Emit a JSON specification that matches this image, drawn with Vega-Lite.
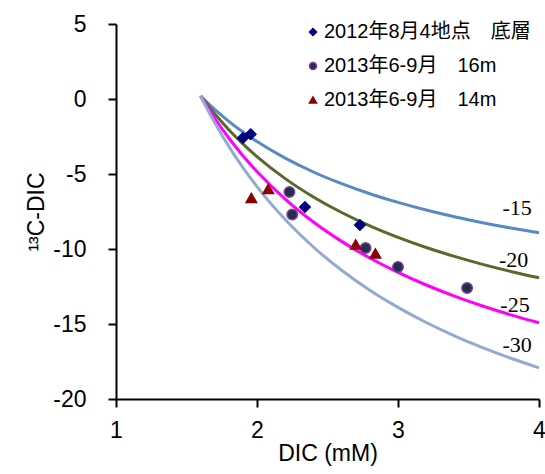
{
  "$schema": "https://vega.github.io/schema/vega-lite/v6.json",
  "width": 423,
  "height": 375,
  "autosize": "none",
  "padding": {"left": 116, "top": 24, "right": 6, "bottom": 75},
  "background": "white",
  "config": {
    "view": {"stroke": null},
    "font": "Liberation Sans",
    "axis": {"grid": false, "domainColor": "black", "domainWidth": 2, "tickColor": "black", "tickWidth": 2, "tickSize": 8, "labelFont": "Liberation Sans", "labelFontSize": 23, "labelColor": "black", "labelFlush": false, "titleFont": "Liberation Sans", "titleFontSize": 23, "titleFontWeight": "normal", "titleColor": "black"}
  },
  "datasets": {
    "curves": [
      {"dic": 1.6, "d13c": 0.2, "end": "-15"}, {"dic": 1.65, "d13c": -0.261, "end": "-15"}, {"dic": 1.7, "d13c": -0.694, "end": "-15"}, {"dic": 1.8, "d13c": -1.489, "end": "-15"}, {"dic": 1.9, "d13c": -2.2, "end": "-15"}, {"dic": 2.0, "d13c": -2.84, "end": "-15"}, {"dic": 2.2, "d13c": -3.945, "end": "-15"}, {"dic": 2.4, "d13c": -4.867, "end": "-15"}, {"dic": 2.6, "d13c": -5.646, "end": "-15"}, {"dic": 2.8, "d13c": -6.314, "end": "-15"}, {"dic": 3.0, "d13c": -6.893, "end": "-15"}, {"dic": 3.2, "d13c": -7.4, "end": "-15"}, {"dic": 3.4, "d13c": -7.847, "end": "-15"}, {"dic": 3.6, "d13c": -8.244, "end": "-15"}, {"dic": 3.8, "d13c": -8.6, "end": "-15"}, {"dic": 4.0, "d13c": -8.92, "end": "-15"},
      {"dic": 1.6, "d13c": 0.2, "end": "-20"}, {"dic": 1.65, "d13c": -0.412, "end": "-20"}, {"dic": 1.7, "d13c": -0.988, "end": "-20"}, {"dic": 1.8, "d13c": -2.044, "end": "-20"}, {"dic": 1.9, "d13c": -2.989, "end": "-20"}, {"dic": 2.0, "d13c": -3.84, "end": "-20"}, {"dic": 2.2, "d13c": -5.309, "end": "-20"}, {"dic": 2.4, "d13c": -6.533, "end": "-20"}, {"dic": 2.6, "d13c": -7.569, "end": "-20"}, {"dic": 2.8, "d13c": -8.457, "end": "-20"}, {"dic": 3.0, "d13c": -9.227, "end": "-20"}, {"dic": 3.2, "d13c": -9.9, "end": "-20"}, {"dic": 3.4, "d13c": -10.494, "end": "-20"}, {"dic": 3.6, "d13c": -11.022, "end": "-20"}, {"dic": 3.8, "d13c": -11.495, "end": "-20"}, {"dic": 4.0, "d13c": -11.92, "end": "-20"},
      {"dic": 1.6, "d13c": 0.2, "end": "-25"}, {"dic": 1.65, "d13c": -0.564, "end": "-25"}, {"dic": 1.7, "d13c": -1.282, "end": "-25"}, {"dic": 1.8, "d13c": -2.6, "end": "-25"}, {"dic": 1.9, "d13c": -3.779, "end": "-25"}, {"dic": 2.0, "d13c": -4.84, "end": "-25"}, {"dic": 2.2, "d13c": -6.673, "end": "-25"}, {"dic": 2.4, "d13c": -8.2, "end": "-25"}, {"dic": 2.6, "d13c": -9.492, "end": "-25"}, {"dic": 2.8, "d13c": -10.6, "end": "-25"}, {"dic": 3.0, "d13c": -11.56, "end": "-25"}, {"dic": 3.2, "d13c": -12.4, "end": "-25"}, {"dic": 3.4, "d13c": -13.141, "end": "-25"}, {"dic": 3.6, "d13c": -13.8, "end": "-25"}, {"dic": 3.8, "d13c": -14.389, "end": "-25"}, {"dic": 4.0, "d13c": -14.92, "end": "-25"},
      {"dic": 1.6, "d13c": 0.2, "end": "-30"}, {"dic": 1.65, "d13c": -0.715, "end": "-30"}, {"dic": 1.7, "d13c": -1.576, "end": "-30"}, {"dic": 1.8, "d13c": -3.156, "end": "-30"}, {"dic": 1.9, "d13c": -4.568, "end": "-30"}, {"dic": 2.0, "d13c": -5.84, "end": "-30"}, {"dic": 2.2, "d13c": -8.036, "end": "-30"}, {"dic": 2.4, "d13c": -9.867, "end": "-30"}, {"dic": 2.6, "d13c": -11.415, "end": "-30"}, {"dic": 2.8, "d13c": -12.743, "end": "-30"}, {"dic": 3.0, "d13c": -13.893, "end": "-30"}, {"dic": 3.2, "d13c": -14.9, "end": "-30"}, {"dic": 3.4, "d13c": -15.788, "end": "-30"}, {"dic": 3.6, "d13c": -16.578, "end": "-30"}, {"dic": 3.8, "d13c": -17.284, "end": "-30"}, {"dic": 4.0, "d13c": -17.92, "end": "-30"}
    ],
    "labels": [
      {"dic": 3.845, "d13c": -7.25, "text": "-15"},
      {"dic": 3.82, "d13c": -10.7, "text": "-20"},
      {"dic": 3.83, "d13c": -13.7, "text": "-25"},
      {"dic": 3.845, "d13c": -16.4, "text": "-30"}
    ],
    "points": [
      {"dic": 1.9, "d13c": -2.6, "series": "2012年8月4地点　底層"},
      {"dic": 1.955, "d13c": -2.35, "series": "2012年8月4地点　底層"},
      {"dic": 2.34, "d13c": -7.2, "series": "2012年8月4地点　底層"},
      {"dic": 2.73, "d13c": -8.4, "series": "2012年8月4地点　底層"},
      {"dic": 2.23, "d13c": -6.2, "series": "2013年6-9月　16m"},
      {"dic": 2.25, "d13c": -7.7, "series": "2013年6-9月　16m"},
      {"dic": 2.77, "d13c": -9.93, "series": "2013年6-9月　16m"},
      {"dic": 3.0, "d13c": -11.2, "series": "2013年6-9月　16m"},
      {"dic": 3.49, "d13c": -12.6, "series": "2013年6-9月　16m"},
      {"dic": 1.96, "d13c": -6.6, "series": "2013年6-9月　14m"},
      {"dic": 2.08, "d13c": -6.0, "series": "2013年6-9月　14m"},
      {"dic": 2.7, "d13c": -9.7, "series": "2013年6-9月　14m"},
      {"dic": 2.84, "d13c": -10.3, "series": "2013年6-9月　14m"}
    ]
  },
  "layer": [
    {
      "data": {"name": "curves"},
      "mark": {"type": "line", "strokeWidth": 3, "interpolate": "monotone"},
      "encoding": {
        "x": {"field": "dic", "type": "quantitative", "scale": {"domain": [1, 4], "nice": false}, "axis": {"values": [1, 2, 3, 4], "labelExpr": "datum.value + ''", "title": "DIC (mM)", "labelPadding": 12, "titlePadding": 0}},
        "y": {"field": "d13c", "type": "quantitative", "scale": {"domain": [-20, 5], "nice": false}, "axis": {"values": [-20, -15, -10, -5, 0, 5], "labelExpr": "datum.value + ''", "title": "¹³C-DIC", "labelPadding": 22, "titlePadding": 4}},
        "color": {"field": "end", "type": "nominal", "legend": null, "scale": {"domain": ["-15", "-20", "-25", "-30"], "range": ["#5889c4", "#566b2b", "#ff00ff", "#93aad3"]}},
        "detail": {"field": "end"}
      }
    },
    {
      "data": {"name": "labels"},
      "mark": {"type": "text", "font": "Liberation Serif", "fontSize": 22, "color": "black", "align": "center", "baseline": "middle"},
      "encoding": {
        "x": {"field": "dic", "type": "quantitative"},
        "y": {"field": "d13c", "type": "quantitative"},
        "text": {"field": "text"}
      }
    },
    {
      "data": {"name": "points"},
      "mark": {"type": "point", "filled": true, "strokeWidth": 1.5, "opacity": 1},
      "encoding": {
        "x": {"field": "dic", "type": "quantitative"},
        "y": {"field": "d13c", "type": "quantitative"},
        "shape": {"field": "series", "type": "nominal", "scale": {"domain": ["2012年8月4地点　底層", "2013年6-9月　16m", "2013年6-9月　14m"], "range": ["diamond", "circle", "triangle-up"]}, "legend": {"title": null, "orient": "none", "legendX": 187, "legendY": -2, "padding": 0, "labelFont": "Liberation Sans, Noto Sans CJK JP", "labelFontSize": 20, "labelColor": "black", "labelLimit": 400, "symbolSize": 50, "rowPadding": 14, "labelOffset": 1, "symbolStrokeWidth": 1.5}},
        "fill": {"field": "series", "type": "nominal", "scale": {"domain": ["2012年8月4地点　底層", "2013年6-9月　16m", "2013年6-9月　14m"], "range": ["#000080", "#1f2f4f", "#8b0000"]}},
        "stroke": {"field": "series", "type": "nominal", "scale": {"domain": ["2012年8月4地点　底層", "2013年6-9月　16m", "2013年6-9月　14m"], "range": ["#000080", "#8a3c9a", "#8b0000"]}},
        "size": {"value": 110}
      }
    }
  ]
}
